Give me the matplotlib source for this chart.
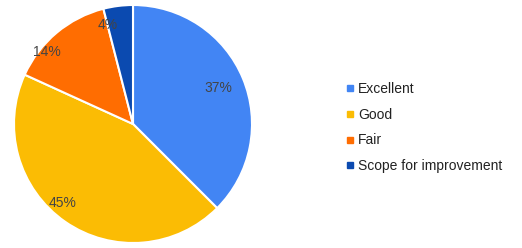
import matplotlib
matplotlib.use("Agg")
import matplotlib.pyplot as plt
import numpy as np
from matplotlib.lines import Line2D

# Data
labels = ["Excellent", "Good", "Fair", "Scope for improvement"]
values = [37.5, 44.3, 14.2, 4.0]
pct_text = ["37%", "45%", "14%", "4%"]
colors = ["#4285F4", "#FBBC04", "#FF6D01", "#0B4AB0"]

plt.rcParams["font.family"] = ["Liberation Sans", "DejaVu Sans"]

fig = plt.figure(figsize=(5.22, 2.48), dpi=100)
ax = fig.add_axes([14 / 522, 5 / 248, 238 / 522, 238 / 248])

wedges, texts = ax.pie(values, colors=colors, startangle=90, counterclock=False,
                       wedgeprops=dict(edgecolor="white", linewidth=1.5))
ax.set_xlim(-1.0, 1.0)
ax.set_ylim(-1.0, 1.0)
ax.set_aspect("equal")

# percent labels (radius and angular nudge, like the original renderer)
label_r = [0.78, 0.885, 0.94, 0.86]
label_shift = [0, -7, 10, 7]
for w, t, r, s in zip(wedges, pct_text, label_r, label_shift):
    ang = np.deg2rad((w.theta1 + w.theta2) / 2 + s)
    ax.text(r * np.cos(ang), r * np.sin(ang), t, ha="center", va="center",
            fontsize=10, color="#444444")

handles = [Line2D([0], [0], marker="s", linestyle="", markersize=4,
                  markerfacecolor=c, markeredgecolor=c) for c in colors]
fig.legend(handles, labels, loc="center left",
           bbox_to_anchor=(333 / 522, 1 - 127.5 / 248), frameon=False,
           fontsize=10, handlelength=0.6, handletextpad=0.3,
           labelspacing=0.85, labelcolor="#222222")

fig.savefig("out.png", dpi=100)
